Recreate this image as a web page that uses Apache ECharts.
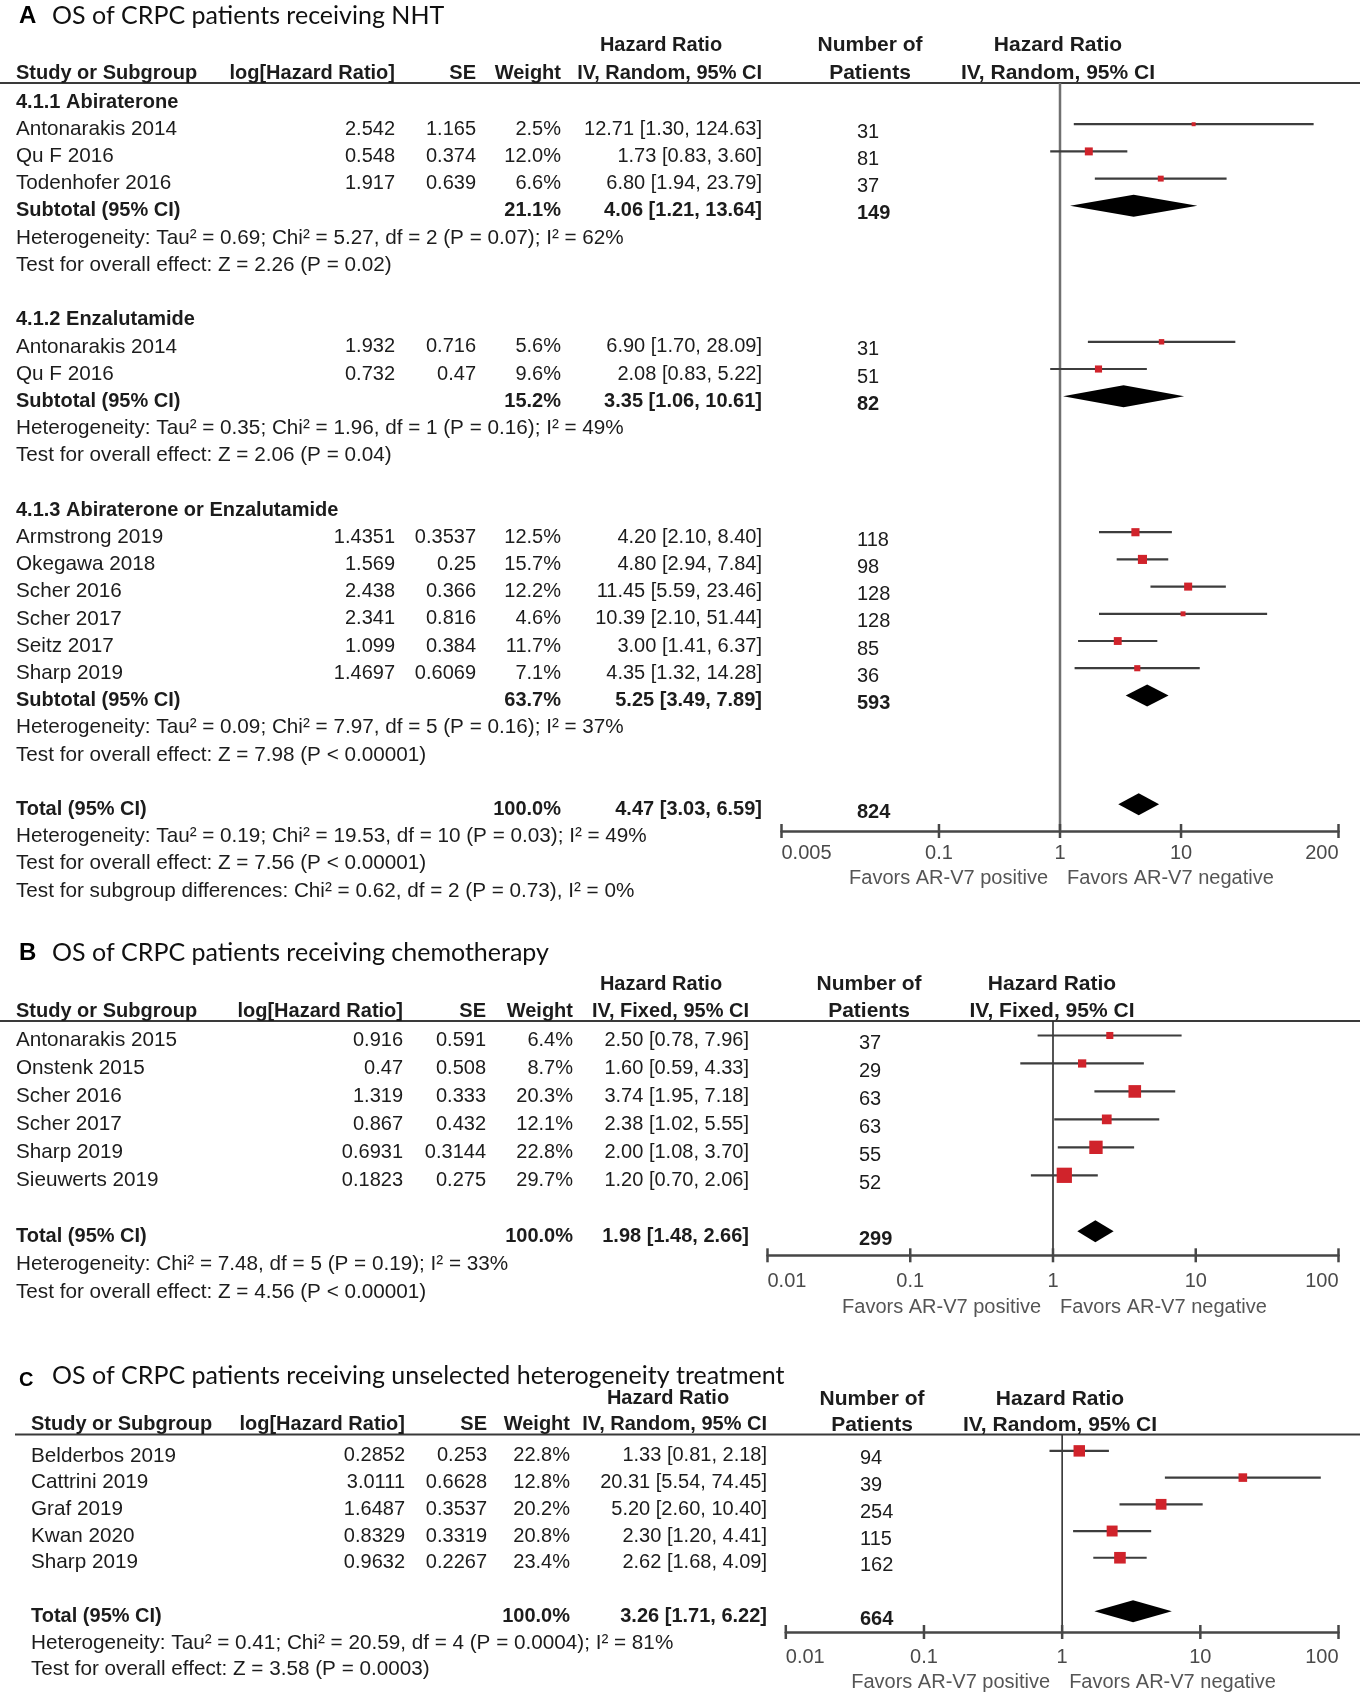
<!DOCTYPE html>
<html>
<head>
<meta charset="utf-8">
<script src="https://cdn.jsdelivr.net/npm/echarts@6/dist/echarts.min.js"></script>
<style>
html,body{margin:0;padding:0;background:#fff;}
#c{width:1360px;height:1693px;}
</style>
</head>
<body>
<div id="c"></div>
<script>
// ================= DATA =================
// ---- Panel A: OS of CRPC patients receiving NHT ----
const aTitle = 'OS of CRPC patients receiving NHT';
const aMethod = 'IV, Random, 95% CI';
const aGroupNames = ['4.1.1 Abiraterone', '4.1.2 Enzalutamide', '4.1.3 Abiraterone or Enzalutamide'];
const aGroupSizes = [3, 2, 6];
const aStudies = ['Antonarakis 2014', 'Qu F 2016', 'Todenhofer 2016', 'Antonarakis 2014', 'Qu F 2016',
  'Armstrong 2019', 'Okegawa 2018', 'Scher 2016', 'Scher 2017', 'Seitz 2017', 'Sharp 2019'];
const aLogHR = ['2.542', '0.548', '1.917', '1.932', '0.732', '1.4351', '1.569', '2.438', '2.341', '1.099', '1.4697'];
const aSE = ['1.165', '0.374', '0.639', '0.716', '0.47', '0.3537', '0.25', '0.366', '0.816', '0.384', '0.6069'];
const aWeight = [2.5, 12.0, 6.6, 5.6, 9.6, 12.5, 15.7, 12.2, 4.6, 11.7, 7.1];
const aHR = [12.71, 1.73, 6.80, 6.90, 2.08, 4.20, 4.80, 11.45, 10.39, 3.00, 4.35];
const aLow = [1.30, 0.83, 1.94, 1.70, 0.83, 2.10, 2.94, 5.59, 2.10, 1.41, 1.32];
const aHigh = [124.63, 3.60, 23.79, 28.09, 5.22, 8.40, 7.84, 23.46, 51.44, 6.37, 14.28];
const aPatients = [31, 81, 37, 31, 51, 118, 98, 128, 128, 85, 36];
const aSubWeight = [21.1, 15.2, 63.7];
const aSubHR = [4.06, 3.35, 5.25];
const aSubLow = [1.21, 1.06, 3.49];
const aSubHigh = [13.64, 10.61, 7.89];
const aSubPatients = [149, 82, 593];
const aSubHet = [
  'Heterogeneity: Tau\u00b2 = 0.69; Chi\u00b2 = 5.27, df = 2 (P = 0.07); I\u00b2 = 62%',
  'Heterogeneity: Tau\u00b2 = 0.35; Chi\u00b2 = 1.96, df = 1 (P = 0.16); I\u00b2 = 49%',
  'Heterogeneity: Tau\u00b2 = 0.09; Chi\u00b2 = 7.97, df = 5 (P = 0.16); I\u00b2 = 37%'];
const aSubTest = [
  'Test for overall effect: Z = 2.26 (P = 0.02)',
  'Test for overall effect: Z = 2.06 (P = 0.04)',
  'Test for overall effect: Z = 7.98 (P < 0.00001)'];
const aTotalWeight = 100.0, aTotalHR = 4.47, aTotalLow = 3.03, aTotalHigh = 6.59, aTotalPatients = 824;
const aTotalNotes = [
  'Heterogeneity: Tau\u00b2 = 0.19; Chi\u00b2 = 19.53, df = 10 (P = 0.03); I\u00b2 = 49%',
  'Test for overall effect: Z = 7.56 (P < 0.00001)',
  'Test for subgroup differences: Chi\u00b2 = 0.62, df = 2 (P = 0.73), I\u00b2 = 0%'];
const aTicks = [0.005, 0.1, 1, 10, 200];

// ---- Panel B: OS of CRPC patients receiving chemotherapy ----
const bTitle = 'OS of CRPC patients receiving chemotherapy';
const bMethod = 'IV, Fixed, 95% CI';
const bStudies = ['Antonarakis 2015', 'Onstenk 2015', 'Scher 2016', 'Scher 2017', 'Sharp 2019', 'Sieuwerts 2019'];
const bLogHR = ['0.916', '0.47', '1.319', '0.867', '0.6931', '0.1823'];
const bSE = ['0.591', '0.508', '0.333', '0.432', '0.3144', '0.275'];
const bWeight = [6.4, 8.7, 20.3, 12.1, 22.8, 29.7];
const bHR = [2.50, 1.60, 3.74, 2.38, 2.00, 1.20];
const bLow = [0.78, 0.59, 1.95, 1.02, 1.08, 0.70];
const bHigh = [7.96, 4.33, 7.18, 5.55, 3.70, 2.06];
const bPatients = [37, 29, 63, 63, 55, 52];
const bTotalWeight = 100.0, bTotalHR = 1.98, bTotalLow = 1.48, bTotalHigh = 2.66, bTotalPatients = 299;
const bTotalNotes = [
  'Heterogeneity: Chi\u00b2 = 7.48, df = 5 (P = 0.19); I\u00b2 = 33%',
  'Test for overall effect: Z = 4.56 (P < 0.00001)'];
const bTicks = [0.01, 0.1, 1, 10, 100];

// ---- Panel C: unselected heterogeneity treatment ----
const cTitle = 'OS of CRPC patients receiving unselected heterogeneity treatment';
const cMethod = 'IV, Random, 95% CI';
const cStudies = ['Belderbos 2019', 'Cattrini 2019', 'Graf 2019', 'Kwan 2020', 'Sharp 2019'];
const cLogHR = ['0.2852', '3.0111', '1.6487', '0.8329', '0.9632'];
const cSE = ['0.253', '0.6628', '0.3537', '0.3319', '0.2267'];
const cWeight = [22.8, 12.8, 20.2, 20.8, 23.4];
const cHR = [1.33, 20.31, 5.20, 2.30, 2.62];
const cLow = [0.81, 5.54, 2.60, 1.20, 1.68];
const cHigh = [2.18, 74.45, 10.40, 4.41, 4.09];
const cPatients = [94, 39, 254, 115, 162];
const cTotalWeight = 100.0, cTotalHR = 3.26, cTotalLow = 1.71, cTotalHigh = 6.22, cTotalPatients = 664;
const cTotalNotes = [
  'Heterogeneity: Tau\u00b2 = 0.41; Chi\u00b2 = 20.59, df = 4 (P = 0.0004); I\u00b2 = 81%',
  'Test for overall effect: Z = 3.58 (P = 0.0003)'];
const cTicks = [0.01, 0.1, 1, 10, 100];

// ---- shared text ----
const headTop = ['Hazard Ratio', 'Number of', 'Hazard Ratio'];
const headCols = ['Study or Subgroup', 'log[Hazard Ratio]', 'SE', 'Weight', 'Patients'];
const subtotalLabel = 'Subtotal (95% CI)';
const totalLabel = 'Total (95% CI)';
const favorsLabels = ['Favors AR-V7 positive', 'Favors AR-V7 negative'];

// ================= BUILD =================
const FONT = '"Liberation Sans", Arial, Helvetica, sans-serif';
const TITLE_FONT = 'Lato, "Open Sans", sans-serif';

function fmtCI(h, l, u) { return h.toFixed(2) + ' [' + l.toFixed(2) + ', ' + u.toFixed(2) + ']'; }
function pct(w) { return w.toFixed(1) + '%'; }

function makeStudyRow(row, d, i) {
  return { row: row, kind: 'study', label: d.studies[i], logHR: d.logHR[i], se: d.se[i],
    weight: pct(d.weight[i]), ci: fmtCI(d.hr[i], d.low[i], d.high[i]), n: String(d.patients[i]),
    hr: d.hr[i], lo: d.low[i], hi: d.high[i], w: d.weight[i] };
}
function makePoolRow(row, label, w, h, l, u, n) {
  return { row: row, kind: 'pool', label: label, weight: pct(w), ci: fmtCI(h, l, u), n: String(n), hr: h, lo: l, hi: u, w: w };
}

// Panel A rows
const rowsA = [{ row: -2.085, kind: 'head1' }, { row: -1.066, kind: 'head2' }];
(function () {
  const d = { studies: aStudies, logHR: aLogHR, se: aSE, weight: aWeight, hr: aHR, low: aLow, high: aHigh, patients: aPatients };
  let r = 0, s = 0;
  aGroupNames.forEach(function (g, gi) {
    rowsA.push({ row: r++, kind: 'heading', label: g });
    for (let k = 0; k < aGroupSizes[gi]; k++) rowsA.push(makeStudyRow(r++, d, s++));
    rowsA.push(makePoolRow(r++, subtotalLabel, aSubWeight[gi], aSubHR[gi], aSubLow[gi], aSubHigh[gi], aSubPatients[gi]));
    rowsA.push({ row: r++, kind: 'note', label: aSubHet[gi] });
    rowsA.push({ row: r++, kind: 'note', label: aSubTest[gi] });
    r++;
  });
  rowsA.push(makePoolRow(r++, totalLabel, aTotalWeight, aTotalHR, aTotalLow, aTotalHigh, aTotalPatients));
  aTotalNotes.forEach(function (t) { rowsA.push({ row: r++, kind: 'note', label: t }); });
})();

function simpleRows(d, tw, th, tl, tu, tn, notes, headRows) {
  const rows = [{ row: headRows[0], kind: 'head1' }, { row: headRows[1], kind: 'head2' }];
  let r = 0;
  d.studies.forEach(function (_, i) { rows.push(makeStudyRow(r++, d, i)); });
  r++;
  rows.push(makePoolRow(r++, totalLabel, tw, th, tl, tu, tn));
  notes.forEach(function (t) { rows.push({ row: r++, kind: 'note', label: t }); });
  return rows;
}
const rowsB = simpleRows({ studies: bStudies, logHR: bLogHR, se: bSE, weight: bWeight, hr: bHR, low: bLow, high: bHigh, patients: bPatients },
  bTotalWeight, bTotalHR, bTotalLow, bTotalHigh, bTotalPatients, bTotalNotes, [-2.0, -1.04]);
const rowsC = simpleRows({ studies: cStudies, logHR: cLogHR, se: cSE, weight: cWeight, hr: cHR, low: cLow, high: cHigh, patients: cPatients },
  cTotalWeight, cTotalHR, cTotalLow, cTotalHigh, cTotalPatients, cTotalNotes, [-2.13, -1.163]);

const panels = [
  { rows: rowsA, method: aMethod, ticks: aTicks, xMin: 0.005, xMax: 200,
    grid: { left: 781.5, top: 83, width: 557, height: 748 }, yMin: -0.699, yMax: 26.801,
    cols: { study: 16, logHR: 395, se: 476, weight: 561, ci: 762, n: 857, hrHead: 661, nHead: 870, rightHead: 1058 },
    sq: 2.3, refColor: '#707070', refWidth: 2.5, labelDy: 22, favorsDy: 47 },
  { rows: rowsB, method: bMethod, ticks: bTicks, xMin: 0.01, xMax: 100,
    grid: { left: 767.5, top: 1021, width: 571, height: 234.3 }, yMin: -0.697, yMax: 7.682,
    cols: { study: 16, logHR: 403, se: 486, weight: 573, ci: 749, n: 859, hrHead: 661, nHead: 869, rightHead: 1052 },
    sq: 2.8, refColor: '#2a2a2a', refWidth: 1.6, labelDy: 26, favorsDy: 52 },
  { rows: rowsC, method: cMethod, ticks: cTicks, xMin: 0.01, xMax: 100,
    grid: { left: 785.8, top: 1434.5, width: 552.7, height: 197.5 }, yMin: -0.800, yMax: 6.592,
    cols: { study: 31, logHR: 405, se: 487, weight: 570, ci: 767, n: 860, hrHead: 668, nHead: 872, rightHead: 1060 },
    sq: 2.4, refColor: '#333333', refWidth: 1.6, labelDy: 25, favorsDy: 50 }
];

const TXT = '#1c1c1c';
const LABEL_SIZE = 20.7;
function textEl(x, y, s, align, bold, size, color) {
  return { type: 'text', x: x, y: y, silent: true,
    style: { text: s, align: align, verticalAlign: 'middle', fontFamily: FONT, fontSize: size || 20,
      fontWeight: bold ? 'bold' : 'normal', fill: color || TXT } };
}

function textRenderer(p) {
  const c = p.cols;
  return function (params, api) {
    const r = p.rows[params.dataIndex];
    const y = api.coord([1, api.value(1)])[1];
    const ch = [];
    const T = function (x, s, align, bold, size, dy) { ch.push(textEl(x, y + (dy || 0), s, align, bold, size)); };
    if (r.kind === 'head1') {
      T(c.hrHead, headTop[0], 'center', true);
      T(c.nHead, headTop[1], 'center', true, 21);
      T(c.rightHead, headTop[2], 'center', true, 21);
    } else if (r.kind === 'head2') {
      T(c.study, headCols[0], 'left', true);
      T(c.logHR, headCols[1], 'right', true);
      T(c.se, headCols[2], 'right', true);
      T(c.weight, headCols[3], 'right', true);
      T(c.ci, p.method, 'right', true);
      T(c.nHead, headCols[4], 'center', true, 21);
      T(c.rightHead, p.method, 'center', true, 21);
    } else if (r.kind === 'heading') {
      T(c.study, r.label, 'left', true);
    } else if (r.kind === 'note') {
      T(c.study, r.label, 'left', false, LABEL_SIZE);
    } else if (r.kind === 'study') {
      T(c.study, r.label, 'left', false, LABEL_SIZE);
      T(c.logHR, r.logHR, 'right');
      T(c.se, r.se, 'right');
      T(c.weight, r.weight, 'right');
      T(c.ci, r.ci, 'right');
      T(c.n, r.n, 'left', false, 20, 3);
    } else {
      T(c.study, r.label, 'left', true);
      T(c.weight, r.weight, 'right', true);
      T(c.ci, r.ci, 'right', true);
      T(c.n, r.n, 'left', true, 20, 3);
    }
    return { type: 'group', children: ch };
  };
}

function markRenderer(p) {
  return function (params, api) {
    const hr = api.value(0), row = api.value(1), lo = api.value(2), hi = api.value(3), w = api.value(4), dia = api.value(5);
    const c = api.coord([hr, row]);
    const y = c[1] - 5;
    const xl = api.coord([lo, row])[0], xh = api.coord([hi, row])[0];
    if (dia) {
      return { type: 'polygon', shape: { points: [[xl, y], [c[0], y - 11], [xh, y], [c[0], y + 11]] }, style: { fill: '#000' } };
    }
    const s = Math.max(4, p.sq * Math.sqrt(w));
    return { type: 'group', children: [
      { type: 'line', shape: { x1: xl, y1: y, x2: xh, y2: y }, style: { stroke: '#3d3d3d', lineWidth: 2.2 } },
      { type: 'rect', shape: { x: c[0] - s / 2, y: y - s / 2, width: s, height: s }, style: { fill: '#d0232b' } }
    ] };
  };
}

function tickRenderer(p) {
  return function (params, api) {
    const v = api.value(0);
    const pt = api.coord([v, p.yMax]);
    const n = p.ticks.length, i = params.dataIndex;
    const align = i === 0 ? 'left' : (i === n - 1 ? 'right' : 'center');
    return { type: 'group', children: [
      { type: 'line', shape: { x1: pt[0], y1: pt[1] - 7, x2: pt[0], y2: pt[1] + 7 }, style: { stroke: '#474747', lineWidth: 2.5 } },
      textEl(pt[0], pt[1] + p.labelDy, String(v), align, false, 20, '#4a4a4a')
    ] };
  };
}

function refRenderer(p) {
  return function (params, api) {
    const top = api.coord([1, p.yMin]);
    const bot = api.coord([1, p.yMax]);
    return { type: 'group', children: [
      { type: 'line', shape: { x1: top[0], y1: top[1], x2: bot[0], y2: bot[1] }, style: { stroke: p.refColor, lineWidth: p.refWidth } },
      textEl(bot[0] - 12, bot[1] + p.favorsDy, favorsLabels[0], 'right', false, 20, '#555'),
      textEl(bot[0] + 7, bot[1] + p.favorsDy, favorsLabels[1], 'left', false, 20, '#555')
    ] };
  };
}

const series = [];
panels.forEach(function (p, i) {
  series.push({ type: 'custom', name: 'text' + i, xAxisIndex: i, yAxisIndex: i, clip: false, silent: true, z: 2,
    renderItem: textRenderer(p), data: p.rows.map(function (r) { return [1, r.row]; }) });
  series.push({ type: 'custom', name: 'ref' + i, xAxisIndex: i, yAxisIndex: i, clip: false, silent: true, z: 1,
    renderItem: refRenderer(p), data: [[1, p.yMax]] });
  series.push({ type: 'custom', name: 'ticks' + i, xAxisIndex: i, yAxisIndex: i, clip: false, silent: true, z: 2,
    renderItem: tickRenderer(p), data: p.ticks.map(function (v) { return [v, p.yMax]; }) });
  series.push({ type: 'custom', name: 'marks' + i, xAxisIndex: i, yAxisIndex: i, clip: false, silent: true, z: 3,
    renderItem: markRenderer(p),
    data: p.rows.filter(function (r) { return r.kind === 'study' || r.kind === 'pool'; })
      .map(function (r) { return [r.hr, r.row, r.lo, r.hi, r.w, r.kind === 'pool' ? 1 : 0]; }) });
});

const titleY = [16, 953, 1376];
const titleLetters = ['A', 'B', 'C'];
const titles = [aTitle, bTitle, cTitle];
const graphics = [];
titles.forEach(function (t, i) {
  graphics.push({ type: 'text', x: 19, y: titleY[i] + (i === 2 ? 4 : 0), silent: true,
    style: { text: titleLetters[i], fontFamily: FONT, fontWeight: 'bold', fontSize: i === 2 ? 20 : 24, fill: '#000', verticalAlign: 'middle' } });
  graphics.push({ type: 'text', x: 52, y: titleY[i], silent: true,
    style: { text: t, fontFamily: TITLE_FONT, fontSize: 25, fill: '#111', verticalAlign: 'middle' } });
});
[[0, 83], [0, 1021], [15, 1434.5]].forEach(function (u) {
  graphics.push({ type: 'line', silent: true, shape: { x1: u[0], y1: u[1], x2: 1360, y2: u[1] }, style: { stroke: '#3a3a3a', lineWidth: 2 } });
});

const chart = echarts.init(document.getElementById('c'), null, { renderer: 'canvas', width: 1360, height: 1693 });
chart.setOption({
  animation: false,
  backgroundColor: '#ffffff',
  grid: panels.map(function (p) { return { left: p.grid.left, top: p.grid.top, width: p.grid.width, height: p.grid.height, containLabel: false, outerBoundsMode: 'none' }; }),
  xAxis: panels.map(function (p, i) {
    return { type: 'log', logBase: 10, gridIndex: i, min: p.xMin, max: p.xMax,
      axisLine: { show: true, onZero: false, lineStyle: { color: '#474747', width: 2.5 } },
      axisTick: { show: false }, axisLabel: { show: false }, splitLine: { show: false } };
  }),
  yAxis: panels.map(function (p, i) {
    return { type: 'value', gridIndex: i, inverse: true, min: p.yMin, max: p.yMax, show: false, splitLine: { show: false } };
  }),
  series: series,
  graphic: graphics
});
</script>
</body>
</html>
